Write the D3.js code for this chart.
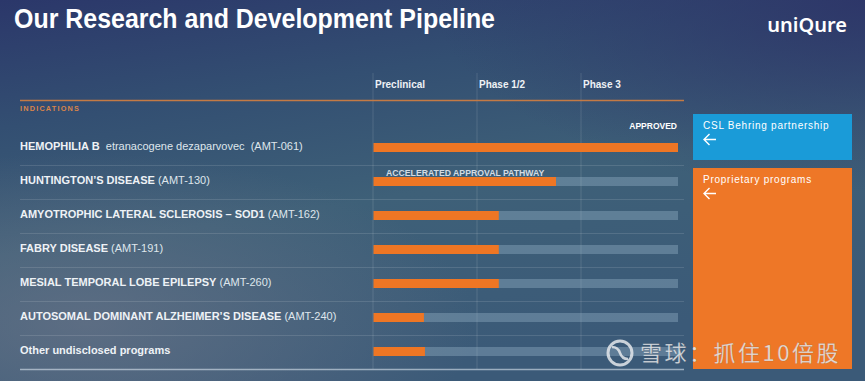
<!DOCTYPE html>
<html>
<head>
<script src="https://cdn.jsdelivr.net/npm/d3@7"></script>
<style>
  body { margin: 0; background: #34506f; }
  svg { display: block; font-family: "Liberation Sans", Arial, sans-serif; }
</style>
</head>
<body>
<svg id="chart" width="865" height="381"></svg>
<script>
// data
var programs = ["HEMOPHILIA B", "HUNTINGTON\u2019S DISEASE", "AMYOTROPHIC LATERAL SCLEROSIS \u2013 SOD1",
  "FABRY DISEASE", "MESIAL TEMPORAL LOBE EPILEPSY", "AUTOSOMAL DOMINANT ALZHEIMER\u2019S DISEASE",
  "Other undisclosed programs"];
var codes = ["  etranacogene dezaparvovec  (AMT-061)", " (AMT-130)", " (AMT-162)", " (AMT-191)",
  " (AMT-260)", " (AMT-240)", ""];
var progress = [3, 1.75, 1.2, 1.2, 1.2, 0.48, 0.49];   // in phase units
var phases = ["Preclinical", "Phase 1/2", "Phase 3"];
var notes = [{ row: 0, text: "APPROVED" }, { row: 1, text: "ACCELERATED APPROVAL PATHWAY" }];
var partners = ["CSL Behring partnership", "Proprietary programs"];

var svg = d3.select("#chart");
var W = 865, H = 381;

// background
var defs = svg.append("defs");
var lg = defs.append("linearGradient").attr("id", "bg").attr("x1", 0).attr("y1", 0).attr("x2", 0.35).attr("y2", 1);
lg.append("stop").attr("offset", "0%").attr("stop-color", "#2b376a");
lg.append("stop").attr("offset", "30%").attr("stop-color", "#334f72");
lg.append("stop").attr("offset", "60%").attr("stop-color", "#3e6078");
lg.append("stop").attr("offset", "100%").attr("stop-color", "#3b5a78");
svg.append("rect").attr("width", W).attr("height", H).attr("fill", "url(#bg)");
var rg = defs.append("radialGradient").attr("id", "glow").attr("cx", 0.1).attr("cy", 0.85).attr("r", 0.45);
rg.append("stop").attr("offset", "0%").attr("stop-color", "#6a7488").attr("stop-opacity", 0.7);
rg.append("stop").attr("offset", "100%").attr("stop-color", "#6a7488").attr("stop-opacity", 0);
svg.append("rect").attr("width", W).attr("height", H).attr("fill", "url(#glow)");
var rg2 = defs.append("radialGradient").attr("id", "corner").attr("cx", 1).attr("cy", 0).attr("r", 0.5);
rg2.append("stop").attr("offset", "0%").attr("stop-color", "#2d3468").attr("stop-opacity", 0.9);
rg2.append("stop").attr("offset", "100%").attr("stop-color", "#2d3468").attr("stop-opacity", 0);
svg.append("rect").attr("width", W).attr("height", H).attr("fill", "url(#corner)");

// title + logo
svg.append("text").attr("x", 14).attr("y", 28).attr("fill", "#fff")
  .attr("font-size", 27).attr("font-weight", "bold")
  .attr("textLength", 481).attr("lengthAdjust", "spacingAndGlyphs")
  .text("Our Research and Development Pipeline");
svg.append("text").attr("x", 847).attr("y", 32).attr("text-anchor", "end").attr("fill", "#fff")
  .attr("font-family", "'Noto Sans', sans-serif").attr("font-size", 20).attr("font-weight", 600)
  .text("uniQure");

// scales
var x = d3.scaleLinear().domain([0, 1, 2, 3]).range([374, 478, 582, 678]);
var y = d3.scaleBand().domain(d3.range(programs.length)).range([131, 369]);
var barH = 9;

// vertical phase lines
svg.selectAll(".vline").data(phases).enter().append("line")
  .attr("x1", (d, i) => x(i) - 1).attr("x2", (d, i) => x(i) - 1)
  .attr("y1", 73).attr("y2", 369)
  .attr("stroke", "rgba(255,255,255,0.13)").attr("stroke-width", 1);

svg.selectAll(".phase").data(phases).enter().append("text")
  .attr("x", (d, i) => x(i) + 1).attr("y", 88)
  .attr("fill", "#eef2f6").attr("font-size", 10).attr("font-weight", "bold")
  .text(d => d);

// header rule
svg.append("line").attr("x1", 20).attr("x2", 684).attr("y1", 100.5).attr("y2", 100.5)
  .attr("stroke", "#c47a45").attr("stroke-width", 1.5);
svg.append("text").attr("x", 20).attr("y", 111).attr("fill", "#d9844a")
  .attr("font-size", 7.3).attr("font-weight", "bold").attr("letter-spacing", 1.2).text("INDICATIONS");

// row separators
svg.selectAll(".sep").data(d3.range(1, programs.length)).enter().append("line")
  .attr("x1", 20).attr("x2", 684)
  .attr("y1", d => y(d) + 0.5).attr("y2", d => y(d) + 0.5)
  .attr("stroke", "rgba(255,255,255,0.12)");
svg.append("line").attr("x1", 20).attr("x2", 684).attr("y1", 369.5).attr("y2", 369.5)
  .attr("stroke", "rgba(220,230,240,0.6)").attr("stroke-width", 1.5);

// labels
var lab = svg.selectAll(".lab").data(programs).enter().append("text")
  .attr("x", 20).attr("y", (d, i) => y(i) + y.bandwidth() / 2 + 2)
  .attr("fill", "#eef2f6").attr("font-size", 11);
lab.append("tspan").attr("font-weight", "bold").text(d => d);
lab.append("tspan").attr("fill", "#dfe6ec").attr("xml:space", "preserve")
  .style("white-space", "pre").text((d, i) => codes[i]);

// tracks + bars
var bars = svg.selectAll(".row").data(progress).enter().append("g");
bars.append("rect")
  .attr("x", x(0)).attr("width", x(3) - x(0))
  .attr("y", (d, i) => y(i) + y.bandwidth() / 2 - barH / 2 - 0.5).attr("height", barH)
  .attr("fill", "rgba(160,190,210,0.35)");
bars.append("rect")
  .attr("x", x(0) - 0.5).attr("width", d => x(d) - x(0) + 0.5)
  .attr("y", (d, i) => y(i) + y.bandwidth() / 2 - barH / 2 - 0.5).attr("height", barH)
  .attr("fill", "#ee7624");

// notes
svg.append("text").attr("x", x(3) - 1).attr("y", y(0) - 2).attr("text-anchor", "end")
  .attr("fill", "#fff").attr("font-size", 8.5).attr("font-weight", "bold").text(notes[0].text);
svg.append("text").attr("x", 386).attr("y", y(1) + 11).attr("fill", "#d3dbe3")
  .attr("font-size", 8.7).attr("font-weight", "bold").text(notes[1].text);

// partner boxes
var boxes = [{ y0: 114, y1: 160, c: "#1a9bd8" }, { y0: 168, y1: 369, c: "#ee7727" }];
var pb = svg.selectAll(".pbox").data(partners).enter().append("g");
pb.append("rect").attr("x", 693).attr("width", 159)
  .attr("y", (d, i) => boxes[i].y0).attr("height", (d, i) => boxes[i].y1 - boxes[i].y0)
  .attr("fill", (d, i) => boxes[i].c);
pb.append("text").attr("x", 703).attr("y", (d, i) => boxes[i].y0 + 15)
  .attr("fill", "#fff").attr("font-size", 10).attr("letter-spacing", 0.75).text(d => d);
pb.append("path")
  .attr("d", (d, i) => {
    var yy = boxes[i].y0 + 25.5;
    return "M704," + yy + "h12M709.5," + (yy - 5.5) + "l-5.5,5.5l5.5,5.5";
  })
  .attr("fill", "none").attr("stroke", "#fff").attr("stroke-width", 1.4);

// watermark
var wm = svg.append("g").attr("opacity", 0.85);
wm.append("circle").attr("cx", 620).attr("cy", 353).attr("r", 12)
  .attr("fill", "none").attr("stroke", "#e4e8ec").attr("stroke-width", 3);
wm.append("path").attr("d", "M612,347 q6,0 8,6 q2,6 8,6")
  .attr("fill", "none").attr("stroke", "#e4e8ec").attr("stroke-width", 2.5);
wm.append("text").attr("x", 640).attr("y", 361)
  .attr("font-family", "'Noto Sans CJK SC', sans-serif").attr("font-size", 22)
  .attr("letter-spacing", 2.5)
  .attr("fill", "#e8ebee").attr("stroke", "rgba(40,40,40,0.25)").attr("stroke-width", 0.5)
  .text("雪球：抓住10倍股");
</script>
</body>
</html>
